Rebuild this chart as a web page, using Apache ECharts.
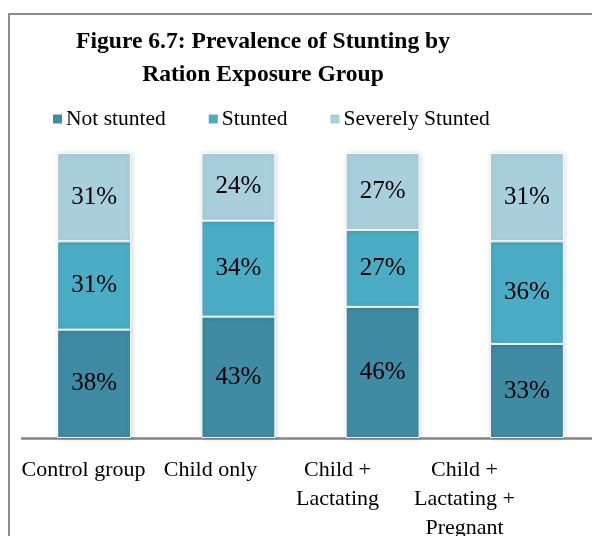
<!DOCTYPE html>
<html>
<head>
<meta charset="utf-8">
<script src="https://cdn.jsdelivr.net/npm/echarts@6/dist/echarts.min.js"></script>
<style>
  html, body { margin: 0; padding: 0; background: #fff; }
  #chart { width: 592px; height: 536px; }
</style>
</head>
<body>
<div id="chart"></div>
<script>
// Prevalence of stunting by ration exposure group (percent of children)
const categories = ['Control group', 'Child only', 'Child +\nLactating', 'Child +\nLactating +\nPregnant'];
const seriesNames = ['Not stunted', 'Stunted', 'Severely Stunted'];
const notStunted = [38, 43, 46, 33];
const stunted = [31, 34, 27, 36];
const severelyStunted = [31, 24, 27, 31];

const colors = ['#3E8BA3', '#4BACC6', '#A9CFDD'];
const FONT = 'Liberation Serif';

const groups = [notStunted, stunted, severelyStunted];
// Each column is drawn as a 100% stack: share of the group total
const totals = categories.map((_, i) => groups.reduce((s, arr) => s + arr[i], 0));

const series = groups.map((arr, k) => ({
  name: seriesNames[k],
  type: 'bar',
  stack: 'share',
  xAxisIndex: 0,
  yAxisIndex: 0,
  barWidth: 74,
  data: arr.map((v, i) => ({ value: v / totals[i] * 100, raw: v })),
  itemStyle: {
    color: colors[k],
    borderColor: '#ffffff',
    borderWidth: 1,
    shadowBlur: 5,
    shadowColor: 'rgba(0,0,0,0.18)',
    shadowOffsetX: 1
  },
  label: {
    show: true,
    position: 'inside',
    formatter: p => p.data.raw + '%',
    fontFamily: FONT,
    fontSize: 25,
    color: '#000'
  }
}));

const chart = echarts.init(document.getElementById('chart'), null, { renderer: 'canvas' });
chart.setOption({
  animation: false,
  backgroundColor: '#ffffff',
  color: colors,
  title: {
    text: 'Figure 6.7: Prevalence of Stunting by\nRation Exposure Group',
    left: 258,
    top: 20,
    textAlign: 'center',
    textStyle: {
      fontFamily: FONT,
      fontWeight: 'bold',
      fontSize: 23.6,
      lineHeight: 33,
      color: '#000'
    }
  },
  legend: {
    left: 51,
    top: 108,
    padding: 0,
    icon: 'rect',
    itemWidth: 11,
    itemHeight: 11,
    itemGap: 41,
    textStyle: { fontFamily: FONT, fontSize: 21.5, color: '#000', padding: [0, 0, 0, -2] },
    data: seriesNames
  },
  grid: [
    { left: 22, width: 577, top: 153, bottom: 98, outerBoundsMode: 'none' },
    { left: 20, right: 64, top: 153, bottom: 98, outerBoundsMode: 'none' }
  ],
  xAxis: [
    {
      type: 'category',
      gridIndex: 0,
      data: categories,
      axisLine: { show: true, lineStyle: { color: '#858585', width: 2.5 } },
      axisTick: { show: false },
      axisLabel: { show: false }
    },
    {
      type: 'category',
      gridIndex: 1,
      data: categories,
      axisLine: { show: false },
      axisTick: { show: false },
      axisLabel: {
        show: true,
        interval: 0,
        margin: 18,
        fontFamily: FONT,
        fontSize: 22,
        lineHeight: 29,
        color: '#000',
        align: 'center'
      }
    }
  ],
  yAxis: [
    { type: 'value', gridIndex: 0, min: 0, max: 100, show: false },
    { type: 'value', gridIndex: 1, min: 0, max: 100, show: false }
  ],
  graphic: [
    {
      type: 'rect',
      shape: { x: 9, y: 14, width: 700, height: 700 },
      style: { fill: 'none', stroke: '#8c8c8c', lineWidth: 2 },
      silent: true,
      z: 100
    }
  ],
  series: series
});
</script>
</body>
</html>
